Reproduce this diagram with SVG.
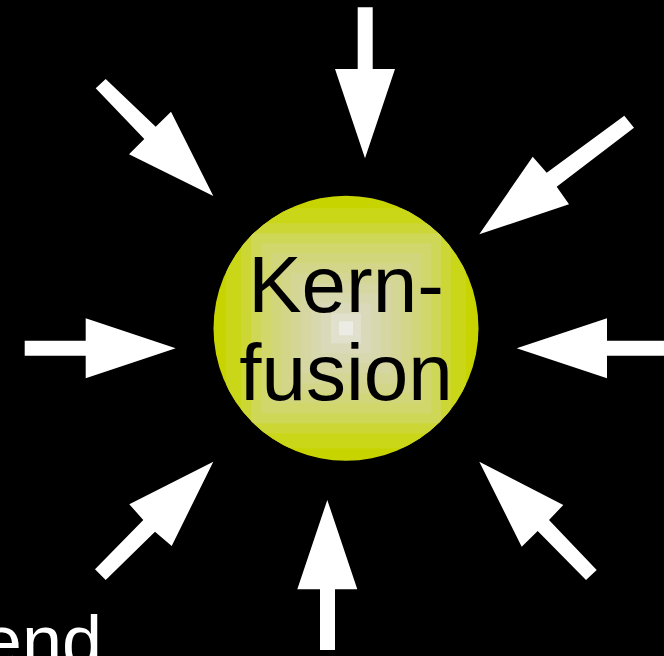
<svg xmlns="http://www.w3.org/2000/svg" width="664" height="656" viewBox="0 0 664 656">
<style>
.arrow{fill:#ffffff;stroke:none}
.lbl{font-family:"Liberation Sans",Arial,sans-serif;font-size:80px;fill:#000000;text-anchor:middle}
.cap{font-family:"Liberation Sans",Arial,sans-serif;font-size:72px;fill:#ffffff;text-anchor:end}
</style>
<defs>
<clipPath id="cc"><circle cx="346" cy="328.3" r="132.5"/></clipPath>
</defs>
<rect x="0" y="0" width="664" height="656" fill="#000000"/>
<g id="connectors">
<polygon class="arrow" points="357.7,7.3 372.7,7.3 372.7,69 395,69 365,158.3 335,69 357.7,69"/>
<polygon class="arrow" points="24.7,340.7 85.7,340.7 85.7,318.3 175.7,348.3 85.7,378.3 85.7,355.7 24.7,355.7"/>
<polygon class="arrow" points="664,340.7 607,340.7 607,318.3 516.7,348.3 607,378.3 607,355.7 664,355.7"/>
<polygon class="arrow" points="320,650 320,589.3 297.3,589.3 327.3,500 357.3,589.3 335,589.3 335,650"/>
<polygon class="arrow" points="95.7,88.3 105.7,79 155.7,126.7 171,111.7 213.3,196 129,154.3 144.3,139"/>
<polygon class="arrow" points="624.3,115.7 634,127.7 556.7,186.7 569,204.3 479.3,234.3 532.7,156.7 546.7,172.7"/>
<polygon class="arrow" points="95,569.3 143.3,520 129.3,504.3 213.3,461.7 171.7,546 155,531.7 105.7,580"/>
<polygon class="arrow" points="596.7,570 586,580 537.7,531 521.7,546.7 479.3,461.7 563.3,505 549,520"/>
</g>
<g id="kernfusion">
<g clip-path="url(#cc)">
<rect x="211" y="193.3" width="270" height="270" fill="#c8d400"/>
<rect x="226" y="208.3" width="240" height="240" fill="#cad718"/>
<rect x="241" y="223.3" width="210" height="210" fill="#ccd735"/>
<rect x="251" y="233.3" width="190" height="190" fill="#cfd757"/>
<rect x="261" y="243.3" width="170" height="170" fill="#d1d76b"/>
<rect x="271" y="253.3" width="150" height="150" fill="#d2d67b"/>
<rect x="281" y="263.3" width="130" height="130" fill="#d3d689"/>
<rect x="291" y="273.3" width="110" height="110" fill="#d4d695"/>
<rect x="301" y="283.3" width="90" height="90" fill="#d5d6a1"/>
<rect x="311" y="293.3" width="70" height="70" fill="#d7d8ad"/>
<rect x="321" y="303.3" width="50" height="50" fill="#dadaba"/>
<rect x="331" y="313.3" width="30" height="30" fill="#e0e0cc"/>
<rect x="339" y="321.3" width="14" height="14" fill="#ececE4"/>
</g>
<text class="lbl" x="346" y="312">Kern-</text>
<text class="lbl" x="346" y="400">fusion</text>
</g>
<g id="caption">
<text class="cap" x="102" y="666">end</text>
</g>
</svg>
